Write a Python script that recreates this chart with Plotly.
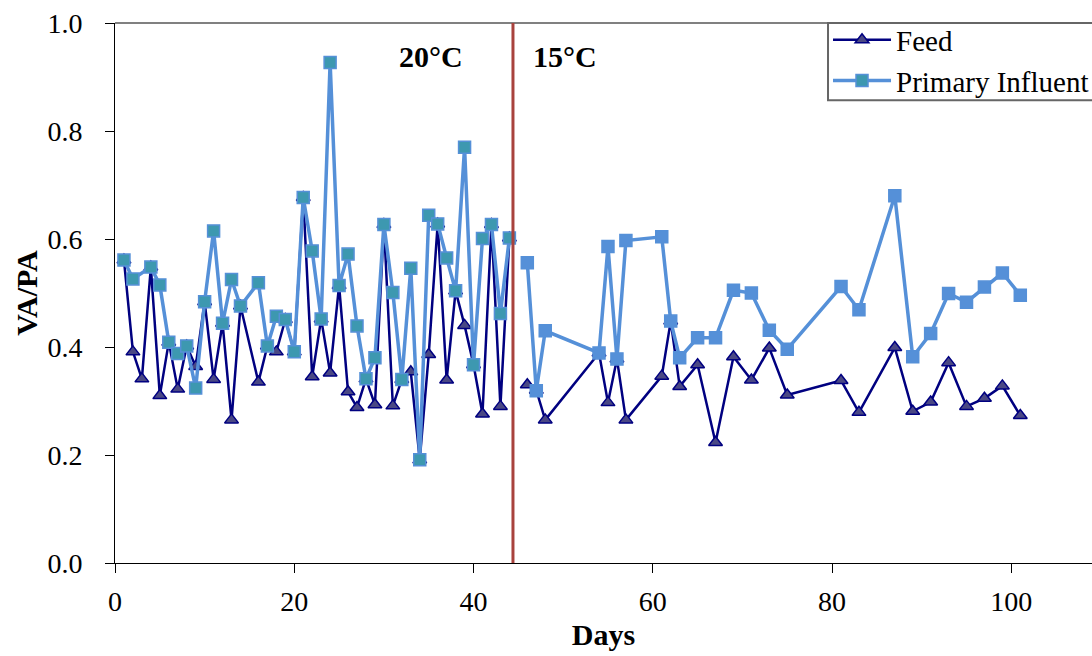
import plotly.graph_objects as go

# ---- data ----
feed_days_20 = [1, 2, 3, 4, 5, 6, 7, 8, 9, 10, 11, 12, 13, 14, 16, 17, 18, 19, 20, 21, 22,
                23, 24, 25, 26, 27, 28, 29, 30, 31, 32, 33, 34, 35, 36, 37, 38, 39, 40, 41,
                42, 43, 44]
feed_vals_20 = [0.561, 0.391, 0.341, 0.548, 0.310, 0.409, 0.322, 0.402, 0.364, 0.484,
                0.340, 0.444, 0.265, 0.476, 0.335, 0.402, 0.391, 0.451, 0.391, 0.677,
                0.345, 0.452, 0.352, 0.514, 0.317, 0.288, 0.341, 0.293, 0.627, 0.291,
                0.340, 0.354, 0.191, 0.386, 0.628, 0.339, 0.504, 0.440, 0.367, 0.276,
                0.627, 0.290, 0.602]

feed_days_15 = [46, 47, 48, 54, 55, 56, 57, 61, 62, 63, 65, 67, 69, 71, 73, 75, 81, 83,
                87, 89, 91, 93, 95, 97, 99, 101]
feed_vals_15 = [0.330, 0.320, 0.265, 0.389, 0.297, 0.378, 0.265, 0.346, 0.448, 0.327,
                0.367, 0.223, 0.382, 0.339, 0.398, 0.311, 0.338, 0.279, 0.399, 0.281,
                0.298, 0.371, 0.290, 0.305, 0.328, 0.273]

pi_days_20 = [1, 2, 4, 5, 6, 7, 8, 9, 10, 11, 12, 13, 14, 16, 17, 18, 19, 20, 21, 22, 23,
              24, 25, 26, 27, 28, 29, 30, 31, 32, 33, 34, 35, 36, 37, 38, 39, 40, 41, 42,
              43, 44]
pi_vals_20 = [0.561, 0.526, 0.548, 0.515, 0.409, 0.388, 0.402, 0.324, 0.484, 0.615,
              0.444, 0.525, 0.476, 0.519, 0.402, 0.457, 0.451, 0.391, 0.677, 0.578,
              0.452, 0.927, 0.514, 0.572, 0.439, 0.341, 0.380, 0.627, 0.501, 0.340,
              0.546, 0.191, 0.644, 0.628, 0.565, 0.504, 0.770, 0.367, 0.601, 0.627,
              0.462, 0.602]

pi_days_15 = [46, 47, 48, 54, 55, 56, 57, 61, 62, 63, 65, 67, 69, 71, 73, 75, 81, 83,
              87, 89, 91, 93, 95, 97, 99, 101]
pi_vals_15 = [0.556, 0.319, 0.430, 0.389, 0.586, 0.378, 0.597, 0.604, 0.448, 0.380,
              0.417, 0.417, 0.505, 0.500, 0.431, 0.396, 0.512, 0.469, 0.680, 0.382,
              0.425, 0.499, 0.483, 0.511, 0.537, 0.496]

switch_day = 44.4
x_ticks = [0, 20, 40, 60, 80, 100]
y_ticks = [0.0, 0.2, 0.4, 0.6, 0.8, 1.0]

FONT = "Liberation Serif"
NAVY = "#000080"
TRI_FILL = "#4A4884"
PI_LINE = "#5590D8"
PI_FILL20 = "#3D98B0"

fig = go.Figure()

feed_style = dict(mode="lines+markers", line=dict(color=NAVY, width=2.5),
                  marker=dict(symbol="triangle-up", size=12, color=TRI_FILL,
                              line=dict(color=NAVY, width=1.5)))
fig.add_trace(go.Scatter(x=feed_days_20, y=feed_vals_20, name="Feed",
                         legendgroup="feed", **feed_style))
fig.add_trace(go.Scatter(x=feed_days_15, y=feed_vals_15, name="Feed",
                         legendgroup="feed", showlegend=False, **feed_style))

fig.add_trace(go.Scatter(x=pi_days_20, y=pi_vals_20, name="Primary Influent",
                         legendgroup="pi", mode="lines+markers",
                         line=dict(color=PI_LINE, width=3.5),
                         marker=dict(symbol="square", size=12, color=PI_FILL20,
                                     line=dict(color=PI_LINE, width=1.5))))
fig.add_trace(go.Scatter(x=pi_days_15, y=pi_vals_15, name="Primary Influent",
                         legendgroup="pi", showlegend=False, mode="lines+markers",
                         line=dict(color=PI_LINE, width=3.5),
                         marker=dict(symbol="square", size=12, color=PI_LINE,
                                     line=dict(color=PI_LINE, width=1.5))))

# vertical temperature switch line
fig.add_shape(type="line", xref="x", yref="y", x0=switch_day, x1=switch_day, y0=0, y1=1,
              line=dict(color="#A8423D", width=3))
# top border
fig.add_shape(type="line", xref="paper", yref="paper", x0=0, x1=1, y0=1, y1=1,
              line=dict(color="#808080", width=2), layer="below")
# legend box
fig.add_shape(type="rect", xref="paper", yref="paper", x0=0.7298, x1=1.05, y0=0.857, y1=1.0,
              line=dict(color="#666666", width=2), fillcolor="white", layer="above")

fig.add_annotation(x=35.3, y=0.938, xref="x", yref="y", text="<b>20°C</b>",
                   showarrow=False, font=dict(family=FONT, size=30, color="black"))
fig.add_annotation(x=50.2, y=0.938, xref="x", yref="y", text="<b>15°C</b>",
                   showarrow=False, font=dict(family=FONT, size=30, color="black"))

fig.update_layout(
    width=1092, height=656,
    margin=dict(l=115, r=0, t=23, b=93, autoexpand=False),
    paper_bgcolor="white", plot_bgcolor="white",
    font=dict(family=FONT, size=28, color="black"),
    showlegend=True,
    legend=dict(x=0.7298, y=1.016, xanchor="left", yanchor="top",
                bgcolor="rgba(0,0,0,0)", borderwidth=0,
                font=dict(family=FONT, size=29, color="black"),
                tracegroupgap=0, itemwidth=58),
    xaxis=dict(range=[0, 109.0], tickvals=x_ticks, showgrid=False, zeroline=False,
               showline=True, linecolor="black", linewidth=1,
               ticks="outside", ticklen=9, tickcolor="black",
               tickfont=dict(family=FONT, size=28), ticklabelstandoff=4,
               automargin=False,
               title=dict(text="<b>Days</b>", font=dict(family=FONT, size=30), standoff=8)),
    yaxis=dict(range=[0, 1.0], tickvals=y_ticks, tickformat=".1f", showgrid=False,
               zeroline=False, showline=True, linecolor="black", linewidth=1,
               ticks="outside", ticklen=9, tickcolor="black",
               tickfont=dict(family=FONT, size=28), ticklabelstandoff=17,
               automargin=False,
               title=dict(text="<b>VA/PA</b>", font=dict(family=FONT, size=30), standoff=0)),
)

fig.write_html("out.html", config={"displayModeBar": False},
               post_script="document.body.style.margin='0';document.body.style.overflow='hidden';")
